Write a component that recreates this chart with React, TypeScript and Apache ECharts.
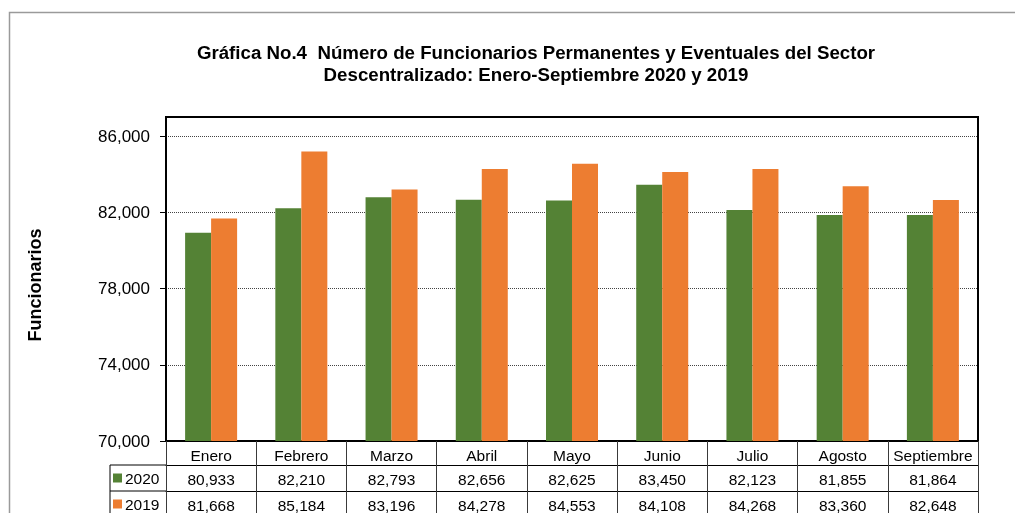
import React, { useEffect, useRef } from "react";
import * as echarts from "echarts";

const months = ["Enero", "Febrero", "Marzo", "Abril", "Mayo", "Junio", "Julio", "Agosto", "Septiembre"];
const values2020 = [80933, 82210, 82793, 82656, 82625, 83450, 82123, 81855, 81864];
const values2019 = [81668, 85184, 83196, 84278, 84553, 84108, 84268, 83360, 82648];
const yTicks = [70000, 74000, 78000, 82000, 86000];
const seriesNames = ["2020", "2019"];

const FONT = "'Liberation Sans', Arial, sans-serif";
const GREEN = "#548235";
const ORANGE = "#ED7D31";
const fmt = (v: number) => v.toLocaleString("en-US");

export default function App() {
  const ref = useRef<HTMLDivElement>(null);
  useEffect(() => {
    if (!ref.current) return;
    const chart = echarts.init(ref.current, undefined, { renderer: "svg" });
    const tableLine = { lineStyle: { color: "#3a3a3a", width: 1 } };
    const makeTableAxis = (data: string[], offset: number, tickLen: number, margin: number) => ({
      type: "category",
      gridIndex: 0,
      position: "bottom",
      offset,
      data,
      axisLine: { show: true, lineStyle: { color: "#000", width: 1 } },
      axisTick: { show: true, interval: 0, length: tickLen, ...tableLine },
      axisLabel: { interval: 0, margin, fontSize: 15.5, color: "#000", fontFamily: FONT },
      splitLine: { show: false },
    });
    const legendBase = {
      orient: "vertical",
      left: 113,
      padding: 0,
      itemWidth: 9,
      itemHeight: 9,
      itemGap: 0,
      icon: "rect",
      textStyle: { fontSize: 15.5, color: "#000", fontFamily: FONT, padding: [0, 0, 0, -2] },
    };
    chart.setOption({
      animation: false,
      textStyle: { fontFamily: FONT },
      title: {
        text: "Gráfica No.4  Número de Funcionarios Permanentes y Eventuales del Sector\nDescentralizado: Enero-Septiembre 2020 y 2019",
        left: 531,
        top: 36,
        textAlign: "center",
        textStyle: { fontSize: 18.7, fontWeight: "bold", color: "#000", lineHeight: 22, fontFamily: FONT },
      },
      grid: {
        left: 166,
        right: 37,
        top: 117,
        bottom: 72,
        show: true,
        borderColor: "#000",
        borderWidth: 2,
        backgroundColor: "transparent",
      },
      legend: [
        { ...legendBase, top: 470, data: [seriesNames[0]] },
        { ...legendBase, top: 496, data: [seriesNames[1]] },
      ],
      xAxis: [
        {
          ...makeTableAxis(months, 0, 24, 6),
          axisLine: { show: true, lineStyle: { color: "#000", width: 2 } },
        },
        makeTableAxis(values2020.map(fmt), 24, 26, 6),
        makeTableAxis(values2019.map(fmt), 50, 26, 6),
      ],
      yAxis: {
        type: "value",
        min: 70000,
        max: 87000,
        interval: 4000,
        name: "Funcionarios",
        nameLocation: "middle",
        nameRotate: 90,
        nameGap: 122,
        nameTextStyle: {
          fontSize: 18,
          fontWeight: "bold",
          color: "#000",
          fontFamily: FONT,
          padding: [0, 12, 0, 0],
        },
        axisLine: { show: true, lineStyle: { color: "#000", width: 2 } },
        axisTick: { show: true, length: 6, customValues: yTicks, lineStyle: { color: "#000" } },
        axisLabel: {
          customValues: yTicks,
          margin: 16,
          fontSize: 17,
          color: "#000",
          fontFamily: FONT,
          formatter: (v: number) => (yTicks.includes(v) ? fmt(v) : ""),
        },
        splitLine: { show: true, lineStyle: { color: "#444", width: 1, type: [1, 1] } },
      },
      series: [
        {
          name: seriesNames[0],
          type: "bar",
          xAxisIndex: 0,
          data: values2020,
          barWidth: 26,
          barGap: "0%",
          itemStyle: { color: GREEN },
        },
        {
          name: seriesNames[1],
          type: "bar",
          xAxisIndex: 0,
          data: values2019,
          barWidth: 26,
          barGap: "0%",
          itemStyle: { color: ORANGE },
        },
      ],
      graphic: [
        {
          type: "rect",
          z: -10,
          silent: true,
          shape: { x: 9.5, y: 12.5, width: 1100, height: 600 },
          style: { fill: "none", stroke: "#9a9a9a", lineWidth: 1.5 },
        },
        { type: "line", shape: { x1: 110, y1: 465, x2: 166, y2: 465 }, style: { stroke: "#000", lineWidth: 1 } },
        { type: "line", shape: { x1: 110, y1: 491, x2: 166, y2: 491 }, style: { stroke: "#000", lineWidth: 1 } },
        { type: "line", shape: { x1: 110, y1: 465, x2: 110, y2: 520 }, style: { stroke: "#000", lineWidth: 1 } },
      ],
    });
    return () => chart.dispose();
  }, []);
  return <div ref={ref} style={{ position: "fixed", left: 0, top: 0, width: 1015, height: 513 }} />;
}
